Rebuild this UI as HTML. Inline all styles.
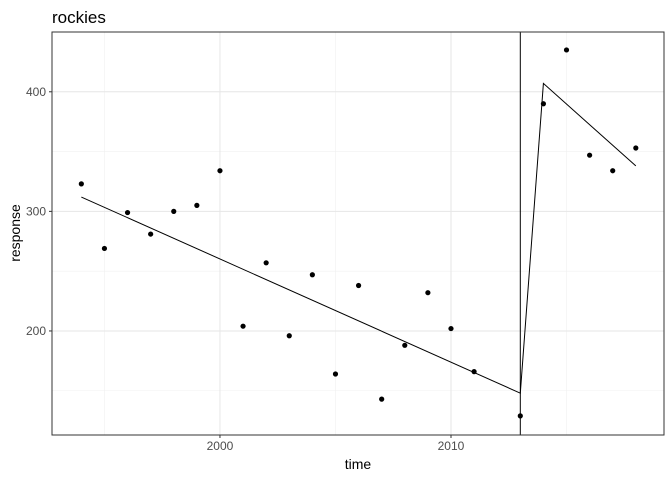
<!DOCTYPE html>
<html><head><meta charset="utf-8"><style>
body{margin:0;background:#fff}
svg{font-family:"Liberation Sans",sans-serif}
</style></head><body>
<svg id="chart" width="672" height="480" xmlns="http://www.w3.org/2000/svg">
<rect width="672" height="480" fill="#fff"/>
<text x="52" y="23" font-size="17" fill="#000">rockies</text>
<g id="grid"></g>
<g id="marks"></g>
<rect x="52" y="32" width="612" height="403" fill="none" stroke="#333" stroke-width="1"/>
<g id="axes"></g>
<text x="358" y="469" font-size="14" text-anchor="middle">time</text>
<text transform="translate(20,233) rotate(-90)" font-size="14" text-anchor="middle">response</text>
</svg>
<script>
const years=[1994,1995,1996,1997,1998,1999,2000,2001,2002,2003,2004,2005,2006,2007,2008,2009,2010,2011,2013,2014,2015,2016,2017,2018];
const responses=[323,269,299,281,300,305,334,204,257,196,247,164,238,143,188,232,202,166,129,390,435,347,334,353];
const fitYears=[1994,2013,2014,2018];
const fitValues=[312,148,407,338];
const breakYear=2013;
const xMajor=[2000,2010];
const xMinor=[1995,2005,2015];
const yMajor=[200,300,400];
const yMinor=[150,250,350];
const L=52,R=664,T=32,B=435;
const x=v=>L+(v-1992.73)/(2019.22-1992.73)*(R-L);
const y=v=>B-(v-113)/(450-113)*(B-T);
const NS="http://www.w3.org/2000/svg";
function mk(p,t,a){const e=document.createElementNS(NS,t);for(const k in a)e.setAttribute(k,a[k]);p.appendChild(e);return e;}
const grid=document.getElementById('grid'),marks=document.getElementById('marks'),axes=document.getElementById('axes');
yMinor.forEach(v=>{const e=mk(grid,'line',{x1:L,x2:R,y1:y(v),y2:y(v),stroke:'#f0f0f0','stroke-width':0.6});

});
xMinor.forEach(v=>{const e=mk(grid,'line',{x1:x(v),x2:x(v),y1:T,y2:B,stroke:'#f0f0f0','stroke-width':0.6});

});
yMajor.forEach(v=>{const e=mk(grid,'line',{x1:L,x2:R,y1:y(v),y2:y(v),stroke:'#e6e6e6','stroke-width':1});


const t=mk(axes,'text',{x:L-6,y:y(v)+4,'font-size':12,fill:'#4d4d4d','text-anchor':'end'});t.textContent=v;


const k=mk(axes,'line',{x1:L-3,x2:L,y1:y(v),y2:y(v),stroke:'#333'});

});
xMajor.forEach(v=>{const e=mk(grid,'line',{x1:x(v),x2:x(v),y1:T,y2:B,stroke:'#e6e6e6','stroke-width':1});


const t=mk(axes,'text',{x:x(v),y:B+15,'font-size':12,fill:'#4d4d4d','text-anchor':'middle'});t.textContent=v;


const k=mk(axes,'line',{x1:x(v),x2:x(v),y1:B,y2:B+3,stroke:'#333'});

});
const vl=mk(marks,'line',{x1:x(breakYear),x2:x(breakYear),y1:T,y2:B,stroke:'#000','stroke-width':1});


const fl=mk(marks,'polyline',{points:fitYears.map((v,i)=>x(v)+','+y(fitValues[i])).join(' '),fill:'none',stroke:'#000','stroke-width':1});


years.forEach((v,i)=>{const c=mk(marks,'circle',{cx:x(v),cy:y(responses[i]),r:2.6,fill:'#000'});

});
</script>
</body></html>
